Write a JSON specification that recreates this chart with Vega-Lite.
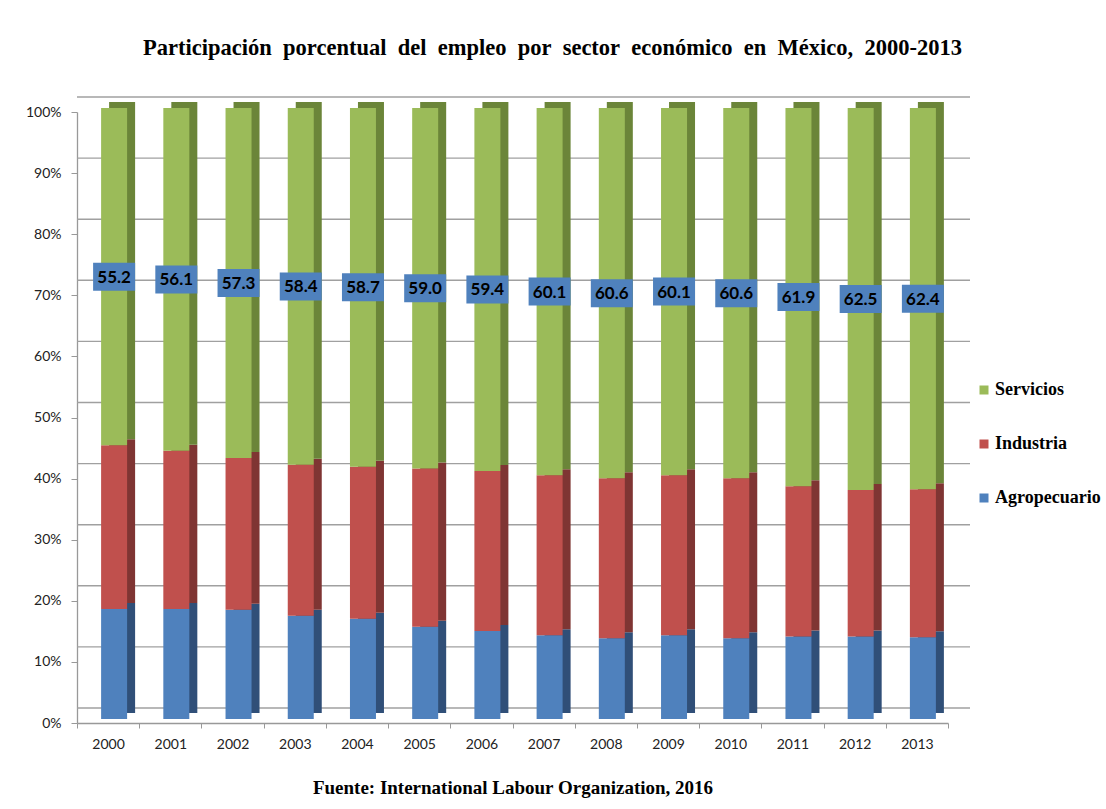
{
  "$schema": "https://vega.github.io/schema/vega-lite/v6.json",
  "autosize": {"type": "none"},
  "padding": {"left": 77, "top": 112, "right": 158, "bottom": 86},
  "width": 871,
  "height": 611,
  "background": "white",
  "title": {
    "text": "Participación\u00a0\u00a0porcentual\u00a0\u00a0del\u00a0\u00a0empleo\u00a0\u00a0por\u00a0\u00a0sector\u00a0\u00a0económico\u00a0\u00a0en\u00a0\u00a0México,\u00a0\u00a02000-2013",
    "font": "Liberation Serif",
    "fontSize": 22.5,
    "fontWeight": "bold",
    "color": "black",
    "anchor": "middle",
    "frame": "group",
    "dx": 40,
    "offset": 37
  },
  "data": {
    "values": [
      {"year": "2000", "sector": "Agropecuario", "value": 18.0},
      {"year": "2000", "sector": "Industria", "value": 26.8},
      {"year": "2000", "sector": "Servicios", "value": 55.2},
      {"year": "2001", "sector": "Agropecuario", "value": 18.0},
      {"year": "2001", "sector": "Industria", "value": 25.9},
      {"year": "2001", "sector": "Servicios", "value": 56.1},
      {"year": "2002", "sector": "Agropecuario", "value": 17.9},
      {"year": "2002", "sector": "Industria", "value": 24.8},
      {"year": "2002", "sector": "Servicios", "value": 57.3},
      {"year": "2003", "sector": "Agropecuario", "value": 16.9},
      {"year": "2003", "sector": "Industria", "value": 24.7},
      {"year": "2003", "sector": "Servicios", "value": 58.4},
      {"year": "2004", "sector": "Agropecuario", "value": 16.4},
      {"year": "2004", "sector": "Industria", "value": 24.9},
      {"year": "2004", "sector": "Servicios", "value": 58.7},
      {"year": "2005", "sector": "Agropecuario", "value": 15.1},
      {"year": "2005", "sector": "Industria", "value": 25.9},
      {"year": "2005", "sector": "Servicios", "value": 59.0},
      {"year": "2006", "sector": "Agropecuario", "value": 14.4},
      {"year": "2006", "sector": "Industria", "value": 26.2},
      {"year": "2006", "sector": "Servicios", "value": 59.4},
      {"year": "2007", "sector": "Agropecuario", "value": 13.7},
      {"year": "2007", "sector": "Industria", "value": 26.2},
      {"year": "2007", "sector": "Servicios", "value": 60.1},
      {"year": "2008", "sector": "Agropecuario", "value": 13.2},
      {"year": "2008", "sector": "Industria", "value": 26.2},
      {"year": "2008", "sector": "Servicios", "value": 60.6},
      {"year": "2009", "sector": "Agropecuario", "value": 13.7},
      {"year": "2009", "sector": "Industria", "value": 26.2},
      {"year": "2009", "sector": "Servicios", "value": 60.1},
      {"year": "2010", "sector": "Agropecuario", "value": 13.2},
      {"year": "2010", "sector": "Industria", "value": 26.2},
      {"year": "2010", "sector": "Servicios", "value": 60.6},
      {"year": "2011", "sector": "Agropecuario", "value": 13.5},
      {"year": "2011", "sector": "Industria", "value": 24.6},
      {"year": "2011", "sector": "Servicios", "value": 61.9},
      {"year": "2012", "sector": "Agropecuario", "value": 13.5},
      {"year": "2012", "sector": "Industria", "value": 24.0},
      {"year": "2012", "sector": "Servicios", "value": 62.5},
      {"year": "2013", "sector": "Agropecuario", "value": 13.4},
      {"year": "2013", "sector": "Industria", "value": 24.2},
      {"year": "2013", "sector": "Servicios", "value": 62.4}
    ]
  },
  "encoding": {
    "x": {
      "field": "year",
      "type": "ordinal",
      "scale": {"paddingInner": 0, "paddingOuter": 0},
      "axis": {
        "title": "Fuente: International Labour Organization, 2016",
        "titleFont": "Liberation Serif",
        "titleFontSize": 19,
        "titleFontWeight": "bold",
        "titleColor": "black",
        "titlePadding": 27,
        "labelAngle": 0,
        "labelFont": "Lato",
        "labelFontSize": 14,
        "labelColor": "#222",
        "labelPadding": 9,
        "tickBand": "extent",
        "tickSize": 5,
        "tickColor": "#999",
        "domainColor": "#999",
        "domainWidth": 1.3,
        "grid": false
      }
    }
  },
  "layer": [
    {
      "data": {"values": [{"v": 0}, {"v": 10}, {"v": 20}, {"v": 30}, {"v": 40}, {"v": 50}, {"v": 60}, {"v": 70}, {"v": 80}, {"v": 90}, {"v": 100}]},
      "mark": {"type": "rule", "color": "#A0A0A0", "strokeWidth": 1.4, "xOffset": 22, "x2Offset": 22, "yOffset": -15},
      "encoding": {
        "x": null,
        "y": {"field": "v", "type": "quantitative", "scale": {"domain": [0, 100]}}
      }
    },
    {
      "mark": {"type": "bar", "width": 26, "xOffset": 14, "x2Offset": 14, "yOffset": -10, "y2Offset": -10},
      "encoding": {
        "y": {"field": "value", "type": "quantitative", "stack": "zero", "scale": {"domain": [0, 100]}},
        "order": {"field": "sector", "sort": "ascending"},
        "color": {
          "field": "sector",
          "type": "nominal",
          "scale": {"domain": ["Servicios", "Industria", "Agropecuario"], "range": ["#6B8539", "#7F3533", "#304F78"]},
          "legend": null
        }
      }
    },
    {
      "mark": {"type": "bar", "width": 26, "xOffset": 6, "x2Offset": 6, "yOffset": -4, "y2Offset": -4},
      "encoding": {
        "y": {
          "field": "value",
          "type": "quantitative",
          "stack": "zero",
          "scale": {"domain": [0, 100]},
          "axis": {
            "title": null,
            "format": ".0f",
            "labelExpr": "datum.value + '%'",
            "values": [0, 10, 20, 30, 40, 50, 60, 70, 80, 90, 100],
            "labelFont": "Lato",
            "labelFontSize": 14,
            "labelColor": "#222",
            "labelPadding": 10,
            "tickSize": 6,
            "tickColor": "#999",
            "domainColor": "#999",
            "domainWidth": 1.3,
            "grid": false
          }
        },
        "order": {"field": "sector", "sort": "ascending"},
        "color": {
          "field": "sector",
          "type": "nominal",
          "scale": {"domain": ["Servicios", "Industria", "Agropecuario"], "range": ["#9BBB59", "#C0504D", "#4F81BD"]},
          "legend": {
            "title": null,
            "orient": "none",
            "legendX": 898,
            "legendY": 269,
            "symbolType": "square",
            "symbolSize": 81,
            "symbolStrokeWidth": 0,
            "labelFont": "Liberation Serif",
            "labelFontSize": 18,
            "labelFontWeight": "bold",
            "labelColor": "black",
            "labelOffset": 2,
            "labelLimit": 200,
            "rowPadding": 36,
            "padding": 0
          }
        }
      }
    },
    {
      "transform": [
        {"stack": "value", "groupby": ["year"], "sort": [{"field": "sector", "order": "ascending"}], "as": ["y0", "y1"]},
        {"filter": "datum.sector === 'Servicios'"},
        {"calculate": "(datum.y0 + datum.y1) / 2", "as": "mid"}
      ],
      "mark": {"type": "point", "shape": "M-1.5,-1L1.5,-1L1.5,1L-1.5,1Z", "size": 784, "filled": true, "color": "#4F81BD", "opacity": 1, "xOffset": 6, "yOffset": -4},
      "encoding": {
        "y": {"field": "mid", "type": "quantitative"}
      }
    },
    {
      "transform": [
        {"stack": "value", "groupby": ["year"], "sort": [{"field": "sector", "order": "ascending"}], "as": ["y0", "y1"]},
        {"filter": "datum.sector === 'Servicios'"},
        {"calculate": "(datum.y0 + datum.y1) / 2", "as": "mid"}
      ],
      "mark": {"type": "text", "font": "Lato", "fontSize": 17, "fontWeight": "bold", "color": "black", "xOffset": 6, "yOffset": -3, "baseline": "middle"},
      "encoding": {
        "y": {"field": "mid", "type": "quantitative"},
        "text": {"field": "value", "type": "quantitative", "format": ".1f"}
      }
    }
  ],
  "resolve": {"scale": {"color": "independent"}},
  "config": {"view": {"stroke": null}}
}
